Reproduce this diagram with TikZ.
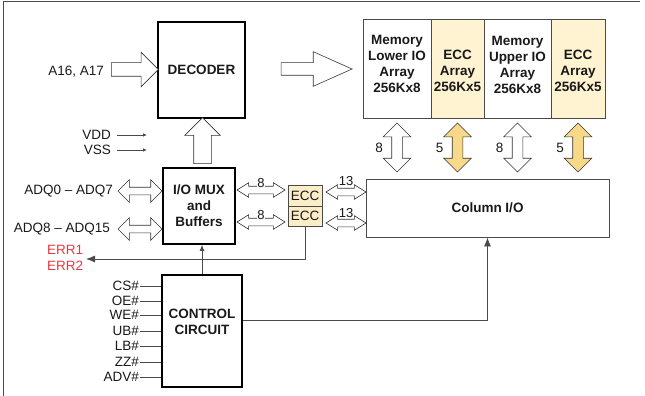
\documentclass[tikz,border=0pt]{standalone}
\usepackage{fontspec}
\setmainfont{Liberation Sans}
\usetikzlibrary{shapes.arrows,arrows.meta,positioning}

\definecolor{ecclight}{HTML}{FFF3D2}
\definecolor{eccbox}{HTML}{FBEDC6}
\definecolor{eccgold}{HTML}{F8D98A}
\definecolor{errred}{HTML}{E8383D}
\definecolor{linegray}{HTML}{4A4A4A}

\begin{document}
\begin{tikzpicture}[x=1pt,y=-1pt,
  font=\fontsize{13.5}{16}\selectfont, text=black!90,
  block/.style={draw=black, line width=1.8pt, inner sep=0, align=center, font=\fontsize{13.5}{16}\selectfont\bfseries},
  memcol/.style={draw=linegray, line width=0.8pt, inner sep=0, minimum height=99pt},
  memtext/.style={align=center, inner sep=0, font=\fontsize{13.5}{16}\selectfont\bfseries},
  fatarrow/.style={single arrow, draw=black!80, line width=0.6pt, fill=white, single arrow head extend=#1},
  busarrow/.style={double arrow, draw=black!80, line width=0.6pt, fill=white, double arrow head extend=#1},
  smallbus/.style={busarrow=3.5pt, inner sep=3.5pt, double arrow tip angle=64},
  buslabel/.style={fill=white, inner sep=0.5pt, font=\fontsize{13}{14}\selectfont},
  sig/.style={draw=linegray, line width=0.8pt},
  tip/.style={-{Latex[length=9pt,width=7pt]}}
]
\useasboundingbox (0,0) rectangle (645,396);
\draw[linegray, line width=1pt] (3,396) -- (3,2) -- (640,2);

% Define nodes
\node[block, minimum width=87pt, minimum height=96pt] (dec) at (201.5,70) {DECODER};
\node[block, minimum width=72pt, minimum height=76pt] (iomux) at (199,206) {I/O MUX\\and\\Buffers};
\node[block, minimum width=80pt, minimum height=112pt] (ctrl) at (202,331) {};
\node[memtext] (ctrltxt) at (202,321.5) {CONTROL\\CIRCUIT};

\node[draw=linegray, line width=0.9pt, minimum width=243pt, minimum height=58pt,
      font=\fontsize{13.5}{16}\selectfont\bfseries] (colio) at (487.5,208) {Column I/O};

\node[draw=linegray, line width=0.8pt, fill=eccbox, minimum width=34pt, minimum height=21pt, inner sep=0] (ecca) at (305,195.5) {ECC};
\node[draw=linegray, line width=0.8pt, fill=eccbox, minimum width=34pt, minimum height=20pt, inner sep=0] (eccb) at (305,216) {ECC};

% Memory arrays
\node[memcol, minimum width=68pt] (lowarr) at (397,68.5) {};
\node[memcol, minimum width=53pt, fill=ecclight] (eccarra) at (457.5,68.5) {};
\node[memcol, minimum width=67pt] (upparr) at (517.5,68.5) {};
\node[memcol, minimum width=54pt, fill=ecclight] (eccarrb) at (578,68.5) {};
\node[memtext] (lowtxt) at (lowarr |- 0,64) {Memory\\Lower IO\\Array\\256Kx8};
\node[memtext] (eccatxt) at (eccarra |- 0,71) {ECC\\Array\\256Kx5};
\node[memtext] (upptxt) at (upparr |- 0,64.5) {Memory\\Upper IO\\Array\\256Kx8};
\node[memtext] (eccbtxt) at (eccarrb |- 0,71) {ECC\\Array\\256Kx5};

% Wide arrows
\node[fatarrow=10.5pt, inner sep=6.5pt, minimum height=47pt] (addrarr) at (131.5,69.5) {};
\node[anchor=east, inner sep=0] (addr) at (104,72) {A16, A17};
\node[fatarrow=11pt, inner sep=6pt, single arrow tip angle=48, minimum height=71pt] (decarr) at (309.5,69) {};
\node[fatarrow=9pt, inner sep=8.5pt, shape border rotate=90, minimum height=46pt] (muxarr) at (202.5,145) {};

\node[busarrow=7.5pt, inner sep=3.5pt, minimum height=44pt] (adqlo) at (140,191) {};
\node[busarrow=7.5pt, inner sep=3.5pt, minimum height=44pt] (adqhi) at (140,229) {};
\node[anchor=east, inner sep=0] (adqlotxt) at (113,191) {ADQ0 -- ADQ7};
\node[anchor=east, inner sep=0] (adqhitxt) at (110,229) {ADQ8 -- ADQ15};

\node[smallbus, minimum height=48pt] (busa) at (261,190) {};
\node[smallbus, minimum height=48pt] (busb) at (261,222) {};
\node[buslabel] (busalbl) at (261,183) {8};
\node[buslabel] (busblbl) at (261,215.5) {8};
\node[smallbus, minimum height=40pt] (busc) at (346,192) {};
\node[smallbus, minimum height=40pt] (busd) at (346,223) {};
\node[buslabel] (busclbl) at (346,181) {13};
\node[buslabel] (busdlbl) at (346,213) {13};

\foreach \col/\fillc/\num in {lowarr/white/8, eccarra/eccgold/5, upparr/white/8, eccarrb/eccgold/5}{
  \node[busarrow=8.5pt, inner sep=5pt, fill=\fillc, shape border rotate=90, minimum height=49pt]
    (\col bus) at (\col |- 0,147.5) {};
  \node[anchor=east, inner sep=0] (\col lbl) at ([xshift=-14pt]\col bus.center) {\num};
}

% Power and control signals
\node[anchor=east, inner sep=0] (vdd) at (111,135) {VDD};
\node[anchor=east, inner sep=0] (vss) at (111,150) {VSS};
\coordinate (vddend) at (147,135);
\coordinate (vssend) at (147,150);
\draw[sig, shorten <=6pt, -{Latex[length=4pt,width=3.5pt]}] (vdd.east) -- (vddend);
\draw[sig, shorten <=6pt, -{Latex[length=4pt,width=3.5pt]}] (vss.east) -- (vssend);

\foreach \s/\y in {CS\#/286, OE\#/301, WE\#/315, UB\#/331, LB\#/346, ZZ\#/362, ADV\#/377}{
  \node[anchor=east, inner sep=1pt] (sig\y) at (140,\y) {\s};
  \draw[sig] (sig\y.east) -- (ctrl.west |- sig\y.east);
}

\node[anchor=west, inner sep=0, text=errred] (err1) at (47,250) {ERR1};
\node[anchor=west, inner sep=0, text=errred] (err2) at (47,266) {ERR2};
\coordinate (errtip) at (86,259);

% Connect the nodes
\draw[sig, tip] (eccb.south) |- (errtip);
\draw[sig, -{Latex[length=6pt,width=5pt]}] (ctrl.north) -- (iomux.south -| ctrl.north);
\draw[sig, tip] ([yshift=11pt]ctrl.east) -| (colio.south);

\end{tikzpicture}
\end{document}
